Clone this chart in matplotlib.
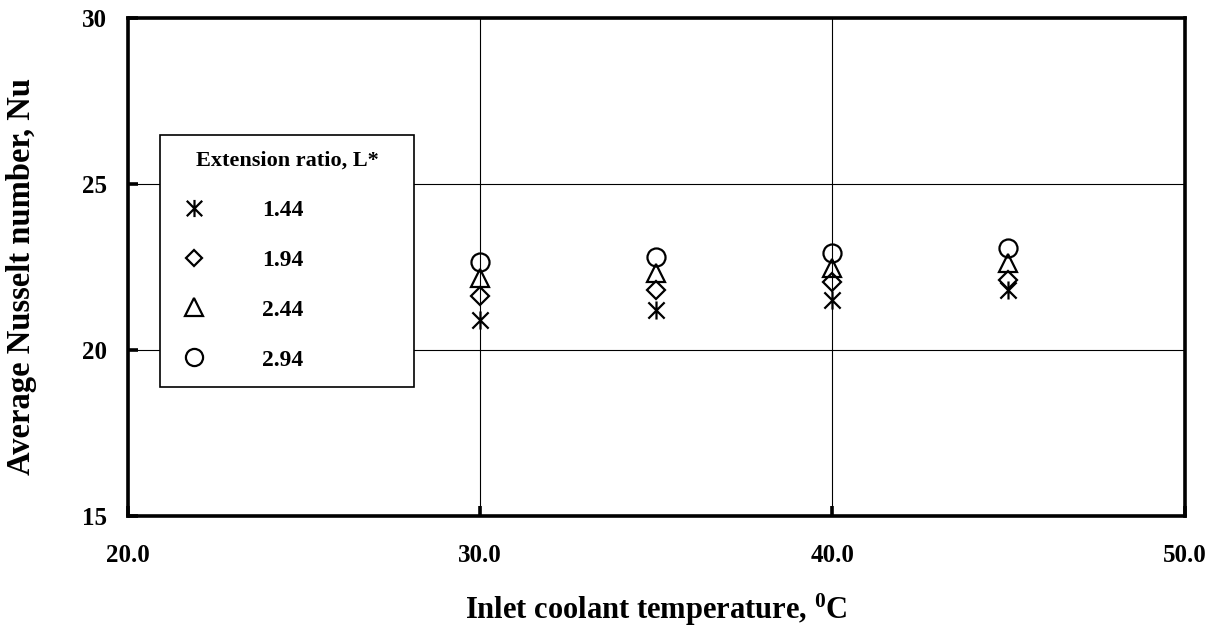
"""Average Nusselt number vs inlet coolant temperature for four extension ratios."""
import matplotlib
matplotlib.use("Agg")
import matplotlib.pyplot as plt
from matplotlib.path import Path
from matplotlib.ticker import FormatStrFormatter, MultipleLocator

plt.rcParams.update({
    "font.family": "Liberation Serif",
    "font.weight": "bold",
    "mathtext.fontset": "custom",
    "mathtext.rm": "Liberation Serif:bold",
    "mathtext.bf": "Liberation Serif:bold",
    "mathtext.it": "Liberation Serif:bold",
})

# data
temps = [30.0, 35.0, 40.0, 45.0]
ratios = ["1.44", "1.94", "2.44", "2.94"]
nu_144 = [20.9, 21.2, 21.5, 21.8]
nu_194 = [21.63, 21.82, 22.05, 22.12]
nu_244 = [22.17, 22.33, 22.47, 22.62]
nu_294 = [22.65, 22.80, 22.93, 23.07]

# asterisk: vertical bar plus an X
star = Path(
    [(0, -1), (0, 1), (-0.9, -0.9), (0.9, 0.9), (-0.9, 0.9), (0.9, -0.9)],
    [Path.MOVETO, Path.LINETO, Path.MOVETO, Path.LINETO, Path.MOVETO, Path.LINETO],
)

fig = plt.figure(figsize=(12.25, 6.32), dpi=100)
ax = fig.add_axes([0.1045, 0.1835, 0.8625, 0.788])

style = dict(linestyle="none", color="black", markerfacecolor="none",
             markeredgecolor="black", markeredgewidth=1.6)
ax.plot(temps, nu_144, marker=star, markersize=13, label=ratios[0], **style)
ax.plot(temps, nu_194, marker="D", markersize=9, label=ratios[1], **style)
ax.plot(temps, nu_244, marker="^", markersize=13, label=ratios[2], **style)
ax.plot(temps, nu_294, marker="o", markersize=13, label=ratios[3], **style)

ax.set_xlim(20, 50)
ax.set_ylim(15, 30)
ax.xaxis.set_major_locator(MultipleLocator(10))
ax.yaxis.set_major_locator(MultipleLocator(5))
ax.xaxis.set_major_formatter(FormatStrFormatter("%.1f"))
ax.grid(True, color="black", linewidth=0.8)
ax.set_axisbelow(True)

for sp in ax.spines.values():
    sp.set_linewidth(2.6)
ax.tick_params(direction="in", length=7, width=2.6, labelsize=18)
ax.tick_params(axis="x", pad=20)
ax.tick_params(axis="y", pad=15)
for lbl in ax.get_xticklabels() + ax.get_yticklabels():
    lbl.set_fontweight("bold")

ax.set_xlabel(r"Inlet coolant temperature, $^{0}$C", fontsize=22,
              fontweight="bold", labelpad=18)
ax.set_ylabel("Average Nusselt number, Nu", fontsize=23.5, fontweight="bold")
ax.yaxis.set_label_coords(-0.086, 0.48)

leg = ax.legend(loc="upper left", bbox_to_anchor=(0.030, 0.766, 0.241, 0.0),
                mode="expand", title="Extension ratio, L*", frameon=True,
                fancybox=False, edgecolor="black", framealpha=1,
                prop={"size": 17, "weight": "bold"},
                title_fontproperties={"size": 16, "weight": "bold"},
                labelspacing=1.2, borderpad=0.7, handlelength=1.5,
                handletextpad=2.15, borderaxespad=0, markerscale=0.95)
leg.get_frame().set_linewidth(1.2)

fig.savefig("out.png", dpi=100, facecolor="white")
